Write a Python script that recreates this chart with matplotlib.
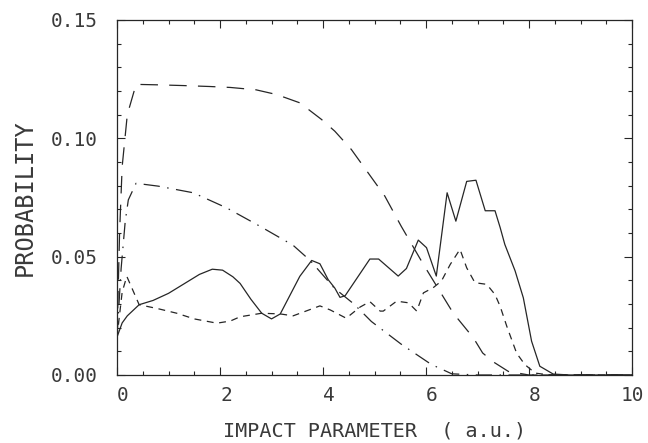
# imports
import numpy as np
import matplotlib.pyplot as plt
import matplotlib.transforms as mtransforms
from matplotlib.ticker import MultipleLocator, FormatStrFormatter

# impact parameter grids and probabilities for each channel
b_solid = [0.0, 0.1, 0.2, 0.43, 0.7, 1.0, 1.3, 1.6, 1.85, 2.05, 2.25, 2.39,
           2.6, 2.81, 3.0, 3.17, 3.55, 3.78, 3.94, 4.1, 4.23, 4.33, 4.43,
           4.91, 5.08, 5.46, 5.62, 5.85, 6.01, 6.2, 6.41, 6.58, 6.79, 6.97,
           7.15, 7.34, 7.44, 7.53, 7.73, 7.89, 8.05, 8.21, 8.47, 8.8, 10.0]
p_solid = [0.016, 0.022, 0.025, 0.0297, 0.0315, 0.0345, 0.0385, 0.0425,
           0.0447, 0.0443, 0.0415, 0.0387, 0.032, 0.0261, 0.0237, 0.0258,
           0.0417, 0.0484, 0.047, 0.0403, 0.0367, 0.0328, 0.0335, 0.0490,
           0.049, 0.0418, 0.045, 0.057, 0.0538, 0.0418, 0.077, 0.065, 0.0818,
           0.0823, 0.0694, 0.0694, 0.0623, 0.0552, 0.044, 0.0326, 0.0143,
           0.0037, 0.0004, 0.0, 0.0]

b_short = [0.0, 0.1, 0.19, 0.43, 0.8, 1.16, 1.5, 1.94, 2.2, 2.39, 2.81, 3.17,
           3.42, 3.94, 4.14, 4.45, 4.72, 4.91, 5.11, 5.17, 5.43, 5.66, 5.82,
           5.95, 6.14, 6.3, 6.47, 6.66, 6.79, 6.95, 7.18, 7.34, 7.44, 7.57,
           7.76, 7.92, 8.12, 8.4, 10.0]
p_short = [0.016, 0.035, 0.0417, 0.0297, 0.028, 0.0261, 0.0237, 0.0219,
           0.0228, 0.0246, 0.0261, 0.0258, 0.025, 0.0292, 0.0275, 0.024,
           0.0287, 0.031, 0.027, 0.027, 0.0312, 0.0305, 0.027, 0.0347, 0.0369,
           0.0397, 0.0467, 0.0531, 0.0453, 0.039, 0.0383, 0.034, 0.029,
           0.0205, 0.0092, 0.0044, 0.0008, 0.0, 0.0]

b_long = [0.0, 0.05, 0.1, 0.2, 0.37, 0.8, 1.28, 1.8, 2.2, 2.7, 3.1, 3.55,
          3.97, 4.23, 4.55, 4.87, 5.2, 5.52, 5.95, 6.53, 6.92, 7.1, 7.31, 7.6,
          8.0, 10.0]
p_long = [0.016, 0.06, 0.088, 0.11, 0.1228, 0.1226, 0.1223, 0.1219, 0.1215,
          0.1205, 0.1185, 0.115, 0.108, 0.103, 0.0953, 0.0856, 0.0756, 0.0628,
          0.0467, 0.0261, 0.0157, 0.0093, 0.0055, 0.0015, 0.0, 0.0]

b_dotdash = [0.0, 0.08, 0.16, 0.22, 0.37, 0.8, 1.48, 2.13, 2.78, 3.42, 3.75,
             4.22, 4.6, 4.94, 5.52, 6.1, 6.5, 7.0, 10.0]
p_dotdash = [0.016, 0.045, 0.065, 0.074, 0.081, 0.0798, 0.077, 0.0706,
             0.0628, 0.0548, 0.0484, 0.0367, 0.030, 0.0226, 0.013, 0.0045,
             0.0005, 0.0, 0.0]

ink = '#262626'
text_ink = '#3a3a3a'
mono = ['DejaVu Sans Mono']

fig = plt.figure(figsize=(6.48, 4.43), dpi=100)
ax = fig.add_axes([117 / 648, 1 - 375 / 443, (632 - 117) / 648, (375 - 20) / 443])

lw = 0.9
ax.plot(b_solid, p_solid, color=ink, lw=lw)
ax.plot(b_short, p_short, color=ink, lw=lw, dashes=(5.5, 4.5))
ax.plot(b_long, p_long, color=ink, lw=lw, dashes=(14, 9))
ax.plot(b_dotdash, p_dotdash, color=ink, lw=lw, dashes=(13, 6, 1.2, 6))

ax.set_xlim(0, 10)
ax.set_ylim(0, 0.15)

ax.xaxis.set_major_locator(MultipleLocator(2))
ax.xaxis.set_minor_locator(MultipleLocator(0.5))
ax.yaxis.set_major_locator(MultipleLocator(0.05))
ax.yaxis.set_minor_locator(MultipleLocator(0.01))
ax.yaxis.set_major_formatter(FormatStrFormatter('%.2f'))

ax.tick_params(which='both', direction='in', top=True, right=True,
               color=ink, width=0.8)
ax.tick_params(which='major', length=6, labelsize=14, labelcolor=text_ink)
ax.tick_params(axis='y', which='major', pad=14)
ax.tick_params(axis='x', which='major', pad=8)
ax.tick_params(which='minor', length=3)
for lab in ax.get_xticklabels() + ax.get_yticklabels():
    lab.set_family(mono)

# the single-digit x labels sit a little to the right of their ticks
shift = mtransforms.ScaledTranslation(6 / 100, 0, fig.dpi_scale_trans)
for lab in ax.get_xticklabels():
    if len(lab.get_text()) == 1:
        lab.set_transform(lab.get_transform() + shift)

for sp in ax.spines.values():
    sp.set_color(ink)
    sp.set_linewidth(0.9)

ax.set_xlabel('IMPACT PARAMETER  ( a.u.)', family=mono, fontsize=14.5,
              color=text_ink, labelpad=12)
ax.set_ylabel('PROBABILITY', family=mono, fontsize=17, color=text_ink,
              labelpad=10)

fig.savefig('out.png', dpi=100, facecolor='white')
